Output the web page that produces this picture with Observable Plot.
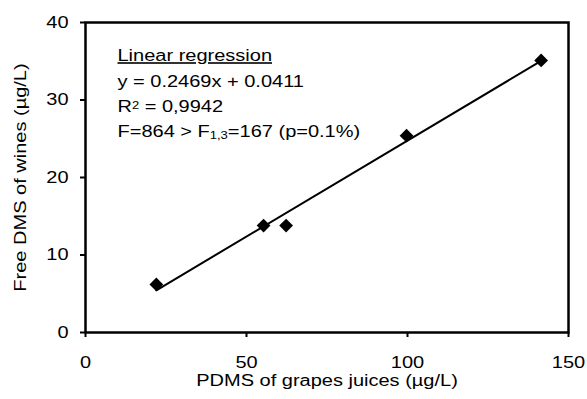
<!DOCTYPE html>
<html><head><meta charset="utf-8">
<script src="https://cdn.jsdelivr.net/npm/d3@7"></script>
<script src="https://cdn.jsdelivr.net/npm/@observablehq/plot@0.6"></script>
<style>body{margin:0;background:#fff}</style>
</head><body><div id="chart"></div>
<script>
// Data
const pdmsJuice   = [22, 55.3, 62.3, 99.7, 141.5];   // x: PDMS of grape juices (µg/L)
const freeDmsWine = [6.2, 13.8, 13.8, 25.4, 35.1];   // y: free DMS of wines (µg/L)
const xTicks = [0, 50, 100, 150];
const yTicks = [0, 10, 20, 30, 40];
const xLabel = "PDMS of grapes juices (µg/L)";
const yLabel = "Free DMS of wines (µg/L)";
const annotation = [
  "Linear regression",
  "y = 0.2469x + 0.0411",
  "R^{2} = 0,9942",
  "F=864 > F_{1,3}=167 (p=0.1%)"
];

const data = pdmsJuice.map((x, i) => ({x, y: freeDmsWine[i]}));

const plot = Plot.plot({
  width: 587, height: 399,
  marginLeft: 85, marginRight: 19, marginTop: 22, marginBottom: 67,
  style: {fontFamily: "'Liberation Sans', Arial, sans-serif", fontSize: "16px", color: "black", background: "white"},
  x: {domain: [0, 150]},
  y: {domain: [0, 40]},
  marks: [
    Plot.axisX({ticks: xTicks, tickSize: 5, tickPadding: 19, strokeWidth: 2, label: null, fontSize: 16}),
    Plot.axisY({ticks: yTicks, tickSize: 5, tickPadding: 12, strokeWidth: 2, label: null, fontSize: 16}),
    Plot.frame({stroke: "black", strokeWidth: 2.5}),
    Plot.linearRegressionY(data, {x: "x", y: "y", ci: 0, stroke: "black", strokeWidth: 2}),
    Plot.dot(data, {x: "x", y: "y", symbol: "diamond2", r: 6.2, fill: "black", stroke: "none"}),
    ...annotation.map((s, i) => Plot.text([s], {
      text: d => d, frameAnchor: "top-left", dx: 32, dy: 38.7 + i * 25.3,
      lineAnchor: "bottom", textAnchor: "start", fontSize: 16
    })),
    Plot.text([xLabel], {text: d => d, frameAnchor: "bottom", dy: 53, lineAnchor: "bottom", textAnchor: "middle", fontSize: 16}),
    Plot.text([yLabel], {text: d => d, frameAnchor: "left", dx: -60, rotate: -90, lineAnchor: "bottom", textAnchor: "middle", fontSize: 16})
  ]
});

document.getElementById("chart").append(plot);

// Rich text (super/subscripts), underline of the heading, and horizontal stretch of glyphs
const NS = "http://www.w3.org/2000/svg";
plot.querySelectorAll("text").forEach(t => {
  const s = t.textContent;
  if (/[\^_]\{/.test(s)) {
    t.textContent = "";
    const re = /([\^_])\{([^}]*)\}/g;
    let last = 0, m;
    const plain = str => { const ts = document.createElementNS(NS, "tspan"); ts.textContent = str; t.append(ts); };
    while ((m = re.exec(s))) {
      if (m.index > last) plain(s.slice(last, m.index));
      const ts = document.createElementNS(NS, "tspan");
      ts.setAttribute("font-size", "65%");
      ts.setAttribute("baseline-shift", m[1] === "^" ? "35%" : "-15%");
      ts.textContent = m[2];
      t.append(ts);
      last = re.lastIndex;
    }
    if (last < s.length) plain(s.slice(last));
  }
  if (s === annotation[0]) t.style.textDecoration = "underline";
  const len = t.getComputedTextLength();
  if (len > 0) {
    t.setAttribute("textLength", (len * 1.25).toFixed(1));
    t.setAttribute("lengthAdjust", "spacingAndGlyphs");
  }
});
</script>
</body></html>
